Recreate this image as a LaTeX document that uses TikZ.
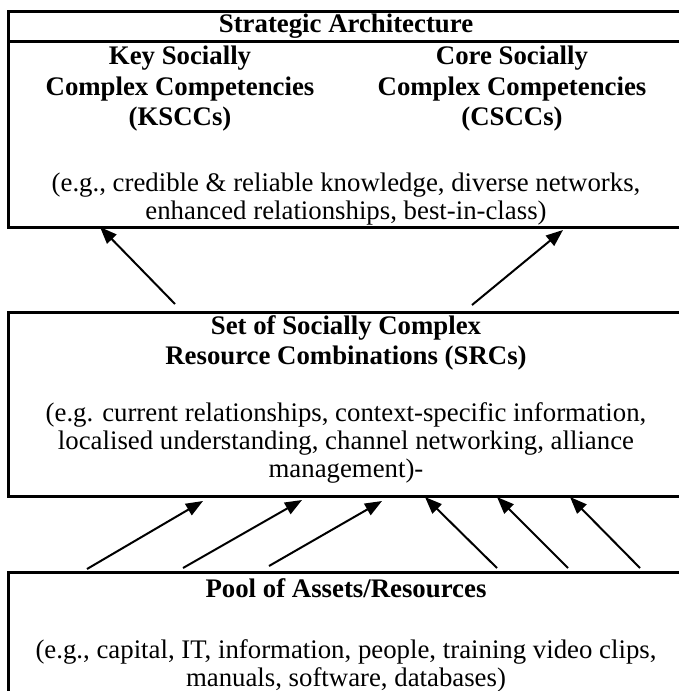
\documentclass[tikz,border=0pt]{standalone}
\usepackage{fontspec}
\setmainfont{Liberation Serif}
\usetikzlibrary{arrows.meta,calc}
\tikzset{
  boxframe/.style={draw=black, line width=3pt, anchor=north west, inner sep=0pt},
  hdr/.style={font=\fontsize{26.8}{29.5}\selectfont\bfseries, align=center, inner sep=0pt},
  hdrwide/.style={font=\fontsize{26.8}{30.5}\selectfont\bfseries, align=center, inner sep=0pt},
  body/.style={font=\fontsize{26.8}{28}\selectfont, align=center, inner sep=0pt},
  link/.style={line width=2pt, -{Triangle[length=17pt,width=13pt]}}
}
\begin{document}
\begin{tikzpicture}[x=1pt,y=-1pt]
\useasboundingbox (0,0) rectangle (679,691);
\clip (0,0) rectangle (679,691);
% boxes
\node[boxframe, minimum width=679pt, minimum height=216pt] (top) at (7,10) {};
\draw[line width=3pt] ($(top.north west)+(0,31)$) -- ($(top.north east)+(0,31)$);
\node[boxframe, minimum width=679pt, minimum height=184pt] (mid) at (7,311) {};
\node[boxframe, minimum width=679pt, minimum height=140pt] (pool) at (7,571) {};
% texts top
\node[hdr] (sa) at (346,26) {Strategic Architecture};
\node[hdrwide] (ksc) at (180,89) {Key Socially\\Complex Competencies\\(KSCCs)};
\node[hdrwide] (csc) at (512,89) {Core Socially\\Complex Competencies\\(CSCCs)};
\node[body] (tex) at (346,199) {(e.g., credible \& reliable knowledge, diverse networks,\\enhanced relationships, best-in-class)};
% texts middle
\node[hdr] (src) at (346,343) {Set of Socially Complex\\Resource Combinations (SRCs)};
\node[body] (mex) at (346,443) {(e.g. current relationships, context-specific information,\\localised understanding, channel networking, alliance\\management)-};
% texts bottom
\node[hdr] (pl) at (346,588) {Pool of Assets/Resources};
\node[body] (pex) at (346,666) {(e.g., capital, IT, information, people, training video clips,\\manuals, software, databases)};
% arrow ends
\coordinate (m1) at (175,304); \coordinate (t1) at (100,227);
\coordinate (m2) at (472,305); \coordinate (t2) at (563,230);
\draw[link] (m1) -- (t1);
\draw[link] (m2) -- (t2);
\coordinate (p1) at (87,569);  \coordinate (s1) at (203,501);
\coordinate (p2) at (183,568); \coordinate (s2) at (302,500);
\coordinate (p3) at (269,566); \coordinate (s3) at (382,501);
\coordinate (p4) at (497,568); \coordinate (s4) at (425,497);
\coordinate (p5) at (568,568); \coordinate (s5) at (497,497);
\coordinate (p6) at (640,568); \coordinate (s6) at (570,497);
\foreach \i in {1,...,6} {\draw[link] (p\i) -- (s\i);}
\end{tikzpicture}
\end{document}
